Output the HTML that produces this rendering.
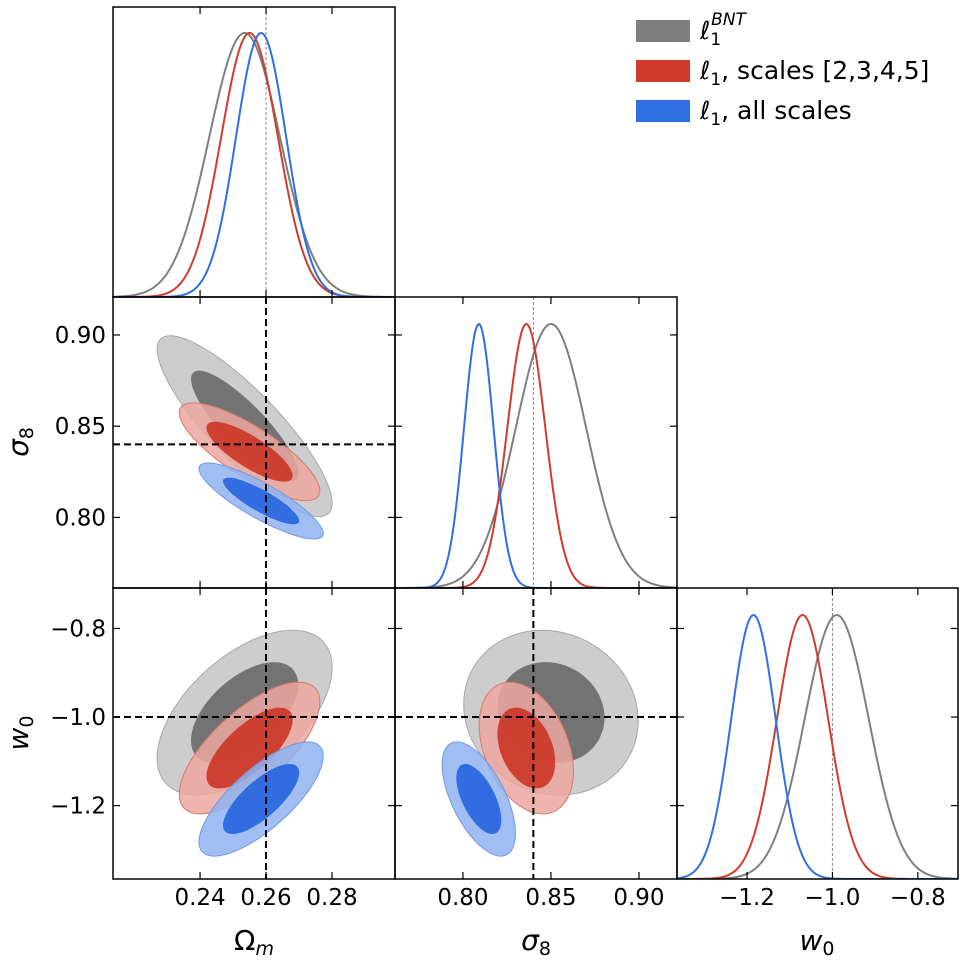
<!DOCTYPE html>
<html><head><meta charset="utf-8"><style>
body{margin:0;background:#fff}
svg{display:block;font-family:"DejaVu Sans","Liberation Sans",sans-serif}
</style></head><body>
<svg id="c" width="964" height="972" viewBox="0 0 964 972"></svg>
<script>
const seriesNames=['l1-bnt','l1-scales-2345','l1-all-scales'];
const legendLabels=['BNT','scales [2,3,4,5]','all scales'];
const omMean=[0.2535,0.2550,0.2585];
const omSig=[0.0107,0.0086,0.0076];
const s8Mean=[0.850,0.836,0.809];
const s8Sig=[0.020,0.0108,0.0084];
const w0Mean=[-0.99,-1.07,-1.185];
const w0Sig=[0.075,0.06,0.052];
const rhoOmS8=[-0.85,-0.8,-0.85];
const rhoOmW0=[0.55,0.7,0.75];
const rhoS8W0=[-0.1,-0.35,-0.6];
const truth={om:0.26,s8:0.84,w0:-1.0};
const omTicks=[0.24,0.26,0.28];
const s8Ticks=[0.80,0.85,0.90];
const w0Ticks=[-1.2,-1.0,-0.8];

const lineCol=['#7f7f7f','#d03c2c','#2f6fe0'];
const innerCol=['#6e6e6e','#cc3a2a','#2b68de'];
const outerCol=['#c4c4c4','#eba79f','#8fb3ee'];
const outerStroke=['#a8a8a8','#d9786c','#6f9ae6'];

const NS='http://www.w3.org/2000/svg';
const svg=document.getElementById('c');
function el(tag,attrs,parent){const e=document.createElementNS(NS,tag);for(const k in attrs)e.setAttribute(k,attrs[k]);(parent||svg).appendChild(e);return e;}
const cols=[[113,395],[395,677],[677,958]];
const rows=[[7,297],[297,588],[588,879]];
function lin(d0,d1,p0,p1){return v=>p0+(v-d0)/(d1-d0)*(p1-p0);}
const xOm=lin(0.2136,0.2991,113,395);
const xS8=lin(0.7614,0.9216,395,677);
const xW0=lin(-1.364,-0.706,677,958);
const yS8=lin(0.9208,0.7613,297,588);
const yW0=lin(-0.7086,-1.3657,588,879);

function fmtTick(v,d){return (v<0?'\u2212':'')+Math.abs(v).toFixed(d);}

function oneD(c,r,xs,means,sigs,truthV,name){
  const [x0,x1]=cols[c],[y0,y1]=rows[r];
  const g=el('g',{});
  
  
  const clip='clip'+name;
  const cp=el('clipPath',{id:clip},g);el('rect',{x:x0,y:y0,width:x1-x0,height:y1-y0},cp);
  const tx=xs(truthV);
  el('line',{x1:tx,x2:tx,y1:y0,y2:y1,stroke:'#888','stroke-width':1,'stroke-dasharray':'3,2'},g);
  for(let i=0;i<3;i++){
    let d='';
    const scale=xs(means[i]+1)-xs(means[i]);
    for(let px=x0;px<=x1;px+=1){
      const v=means[i]+(px-xs(means[i]))/scale;
      const z=(v-means[i])/sigs[i];
      const y=y1-264*Math.exp(-0.5*z*z);
      d+=(d?'L':'M')+px+','+y.toFixed(1);
    }
    const p=el('path',{d:d,fill:'none',stroke:lineCol[i],'stroke-width':2,'clip-path':'url(#'+clip+')'},g);
    
    
  }
  el('rect',{x:x0,y:y0,width:x1-x0,height:y1-y0,fill:'none',stroke:'#000','stroke-width':1.5},g);
}
function twoD(c,r,xs,ys,mx,sx,my,sy,rho,tx,ty,name){
  const [x0,x1]=cols[c],[y0,y1]=rows[r];
  const g=el('g',{});
  
  
  const clip='clip'+name;
  const cp=el('clipPath',{id:clip},g);el('rect',{x:x0,y:y0,width:x1-x0,height:y1-y0},cp);
  function ell(i,rad){
    let d='';
    for(let k=0;k<=72;k++){
      const t=k/72*2*Math.PI;
      const vx=mx[i]+sx[i]*rad*Math.cos(t);
      const vy=my[i]+sy[i]*rad*(rho[i]*Math.cos(t)+Math.sqrt(1-rho[i]*rho[i])*Math.sin(t));
      d+=(k?'L':'M')+xs(vx).toFixed(1)+','+ys(vy).toFixed(1);
    }
    return d+'Z';
  }
  for(let i=0;i<3;i++){
    const o=el('path',{d:ell(i,2.48),fill:outerCol[i],'fill-opacity':0.85,stroke:outerStroke[i],'stroke-width':1,'clip-path':'url(#'+clip+')'},g);
    
    
    const n=el('path',{d:ell(i,1.52),fill:innerCol[i],'fill-opacity':0.95,'clip-path':'url(#'+clip+')'},g);
    
    
  }
  el('line',{x1:xs(tx),x2:xs(tx),y1:y0,y2:y1,stroke:'#000','stroke-width':2,'stroke-dasharray':'7,4'},g);
  el('line',{x1:x0,x2:x1,y1:ys(ty),y2:ys(ty),stroke:'#000','stroke-width':2,'stroke-dasharray':'7,4'},g);
  el('rect',{x:x0,y:y0,width:x1-x0,height:y1-y0,fill:'none',stroke:'#000','stroke-width':1.5},g);
}
oneD(0,0,xOm,omMean,omSig,truth.om,'panel-omega-m-1d');
oneD(1,1,xS8,s8Mean,s8Sig,truth.s8,'panel-sigma8-1d');
oneD(2,2,xW0,w0Mean,w0Sig,truth.w0,'panel-w0-1d');
twoD(0,1,xOm,yS8,omMean,omSig,s8Mean,s8Sig,rhoOmS8,truth.om,truth.s8,'panel-omega-sigma8');
twoD(0,2,xOm,yW0,omMean,omSig,w0Mean,w0Sig,rhoOmW0,truth.om,truth.w0,'panel-omega-w0');
twoD(1,2,xS8,yW0,s8Mean,s8Sig,w0Mean,w0Sig,rhoS8W0,truth.s8,truth.w0,'panel-sigma8-w0');

function xticks(rowsIdx,xs,ticks,dec){
  const ry=rows[2][1];
  for(const r of rowsIdx){const [y0,y1]=rows[r];
    for(const t of ticks){const x=xs(t);
      el('line',{x1:x,x2:x,y1:y1,y2:y1-7,stroke:'#000','stroke-width':1.2});
      el('line',{x1:x,x2:x,y1:y0,y2:y0+7,stroke:'#000','stroke-width':1.2});}}
  for(const t of ticks){const tl=el('text',{x:xs(t),y:ry+26,'font-size':23,'text-anchor':'middle'});tl.textContent=fmtTick(t,dec);
    }
}
xticks([0,1,2],xOm,omTicks,2);
xticks([1,2],xS8,s8Ticks,2);
xticks([2],xW0,w0Ticks,1);
function yticks(colsIdx,ys,ticks,dec){
  for(const c of colsIdx){const [x0,x1]=cols[c];
    for(const t of ticks){const y=ys(t);
      el('line',{x1:x0,x2:x0+7,y1:y,y2:y,stroke:'#000','stroke-width':1.2});
      el('line',{x1:x1,x2:x1-7,y1:y,y2:y,stroke:'#000','stroke-width':1.2});}}
  for(const t of ticks){const tl=el('text',{x:106,y:ys(t)+8,'font-size':23,'text-anchor':'end'});tl.textContent=fmtTick(t,dec);
    }
}
yticks([0,1],yS8,s8Ticks,2);
yticks([0,1,2],yW0,w0Ticks,1);

function lbl(x,y,html,name,rot){const t=el('text',{x:x,y:y,'font-size':28,'text-anchor':'middle'});
  if(rot)t.setAttribute('transform','rotate(-90 '+x+' '+y+')');t.innerHTML=html;
  }
lbl(254,950,'Ω<tspan font-size="19" font-style="italic" dy="5">m</tspan>','x-axis-title-omega-m');
lbl(536,950,'<tspan font-style="italic">σ</tspan><tspan font-size="19" dy="5">8</tspan>','x-axis-title-sigma8');
lbl(817,950,'<tspan font-style="italic">w</tspan><tspan font-size="19" dy="5">0</tspan>','x-axis-title-w0');
lbl(28,442,'<tspan font-style="italic">σ</tspan><tspan font-size="19" dy="5">8</tspan>','y-axis-title-sigma8',true);
lbl(28,733,'<tspan font-style="italic">w</tspan><tspan font-size="19" dy="5">0</tspan>','y-axis-title-w0',true);

const lg=el('g',{});


const legY=[31,71,111];
for(let i=0;i<3;i++){
  const r=el('rect',{x:636,y:legY[i]-11,width:54,height:22,fill:lineCol[i]},lg);
  
  
  const t=el('text',{x:700,y:legY[i]+8,'font-size':25},lg);
  if(i===0)t.innerHTML='<tspan font-style="italic">ℓ</tspan><tspan font-size="17" dy="6">1</tspan><tspan font-size="17" font-style="italic" dx="-10" dy="-20">BNT</tspan>';
  else t.innerHTML='<tspan font-style="italic">ℓ</tspan><tspan font-size="17" dy="6">1</tspan><tspan dy="-6">, '+legendLabels[i]+'</tspan>';
  
  
}
</script>
</body></html>
